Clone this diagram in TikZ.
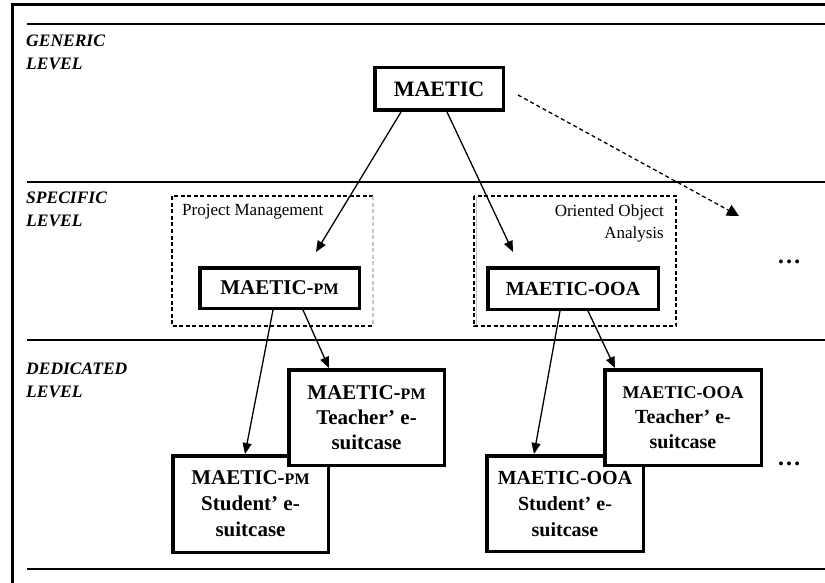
\documentclass[tikz,border=0pt]{standalone}
\usepackage{fontspec}
\setmainfont{Liberation Serif}
\usetikzlibrary{arrows.meta,calc}
\begin{document}
\begin{tikzpicture}[x=1pt,y=-1pt,
  frameline/.style={line width=3pt},
  levelline/.style={line width=2pt},
  levellabel/.style={anchor=west, align=left, inner sep=0pt,
    font=\fontsize{17.5}{23}\selectfont\bfseries\itshape},
  grouplabel/.style={inner sep=0pt, font=\fontsize{17}{22}\selectfont},
  groupbox/.style={line width=1.8pt, dash pattern=on 4pt off 2.5pt},
  mainbox/.style={draw, line width=3.5pt, fill=white, inner sep=0pt, align=center},
  boxfont/.style={font=\fontsize{21}{26}\selectfont\bfseries},
  arr/.style={line width=1.3pt, -{Triangle[length=11pt,width=9pt]}},
  dasharr/.style={line width=1.3pt, dash pattern=on 4pt off 3pt, -{Triangle[length=12pt,width=12pt]}},
  dotsnode/.style={inner sep=0pt, font=\fontsize{24}{24}\selectfont\bfseries}
]
\useasboundingbox (0,0) rectangle (825,583);
% frame
\draw[frameline] (12,583) -- (12,5) -- (825,5);
% level lines
\foreach \yy in {24,182,340,569} \draw[levelline] (27,\yy) -- (825,\yy);
% level labels
\node[levellabel] (lgen) at (26,52.5) {GENERIC\\LEVEL};
\node[levellabel] (lspe) at (26,209) {SPECIFIC\\LEVEL};
\node[levellabel] (lded) at (26,380.5) {DEDICATED\\LEVEL};
% group boxes
\draw[groupbox] (373,196) -- (172,196) -- (172,326) -- (373,326);
\draw[groupbox, gray!45] (373,196) -- (373,326);
\draw[line width=0.8pt, gray!50] (476.5,197) -- (476.5,325);
\draw[groupbox] (474,196) rectangle (676,326);
\node[grouplabel, anchor=west] (gpm) at (182,212) {Project Management};
\node[grouplabel, anchor=east, align=right] (gooa) at (664,223) {Oriented Object\\Analysis};
% boxes
\node[mainbox, minimum width=128.5pt, minimum height=42.5pt, font=\fontsize{22}{22}\selectfont\bfseries] (maetic) at (439,89) {MAETIC};
\node[mainbox, minimum width=159.5pt, minimum height=40.5pt, boxfont] (pm) at (279.5,288) {MAETIC-{\fontsize{16}{16}\selectfont PM}};
\node[mainbox, minimum width=170.5pt, minimum height=41.5pt, font=\fontsize{20}{20}\selectfont\bfseries] (ooa) at (573,288.5) {MAETIC-OOA};
\node[mainbox, minimum width=155.5pt, minimum height=96.5pt, boxfont] (spm) at (250.5,504) {MAETIC-{\fontsize{16}{16}\selectfont PM}\\Student’ e-\\suitcase};
\node[mainbox, minimum width=155.5pt, minimum height=95.5pt, boxfont, font=\fontsize{21}{25}\selectfont\bfseries] (tpm) at (366.5,417.5) {MAETIC-{\fontsize{16}{16}\selectfont PM}\\Teacher’ e-\\suitcase};
\node[mainbox, minimum width=156.5pt, minimum height=95.5pt, font=\fontsize{20}{26}\selectfont\bfseries] (sooa) at (565,503.5) {MAETIC-OOA\\Student’ e-\\suitcase};
\node[mainbox, minimum width=156.5pt, minimum height=95.5pt, font=\fontsize{20}{25}\selectfont\bfseries] (tooa) at (683,417.5) {{\fontsize{18}{18}\selectfont MAETIC-OOA}\\Teacher’ e-\\suitcase};
% dots
\node[dotsnode] (dots1) at (789,262) {…};
\node[dotsnode] (dots2) at (789,464) {…};
% connectors
\draw[arr, shorten >=16.4pt] ($(maetic.south)+(-38,0)$) -- ($(pm.north)+(28,0)$);
\draw[arr, shorten >=15.5pt] ($(maetic.south)+(8,0)$) -- ($(ooa.north)+(-53.4,0)$);
\draw[arr] ($(pm.south)+(-6.5,0)$) -- ($(spm.north)+(-5.5,0)$);
\draw[arr] ($(pm.south)+(23.5,0)$) -- ($(tpm.north)+(-37.5,0)$);
\draw[arr] ($(ooa.south)+(-13,0)$) -- ($(sooa.north)+(-31,0)$);
\draw[arr] ($(ooa.south)+(15,0)$) -- ($(tooa.north)+(-68,0)$);
\coordinate (moreend) at (739,216);
\draw[dasharr] ($(maetic.east)+(13,6)$) -- (moreend);
\end{tikzpicture}
\end{document}
